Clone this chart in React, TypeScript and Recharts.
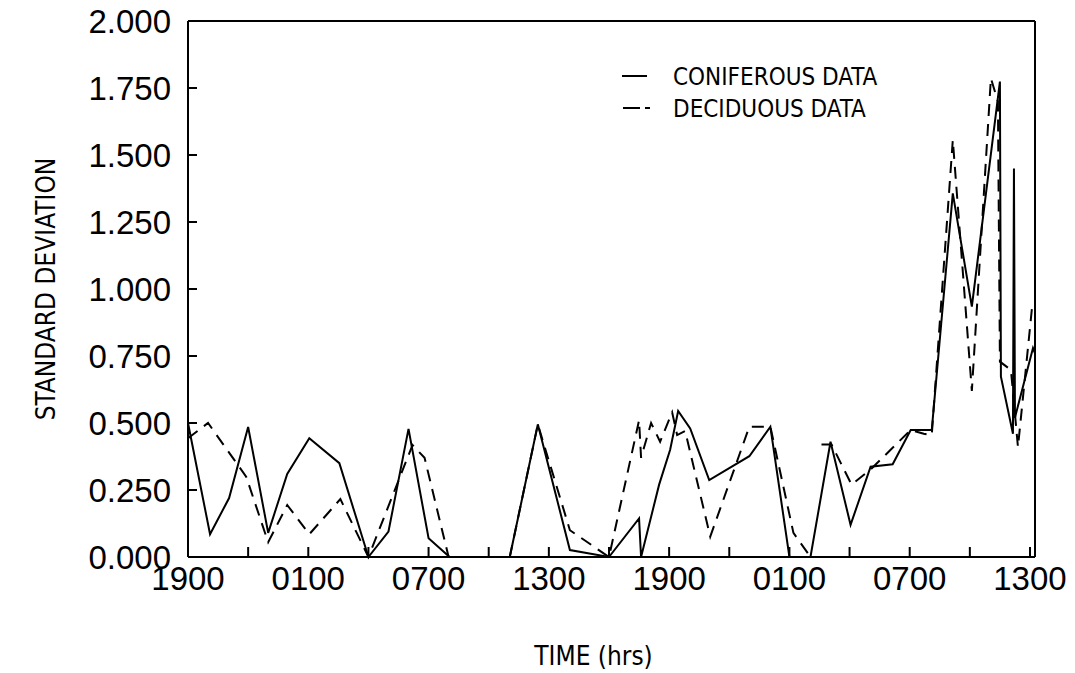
import { LineChart, Line, XAxis, YAxis, ReferenceLine, Legend } from 'recharts'

// hours since 1900 on day 1
const coniferousTime = [0, 1.1, 2.05, 3, 4, 4.95, 6.05, 7.55, 9, 10, 11, 12, 13.05, 14.5, 16.05, 17.45, 19.05, 21, 22.5, 22.6, 23.5, 24.05, 24.45, 25.05, 26, 28, 29.05, 30, 31.05, 32.05, 33.05, 34.05, 35.15, 36.05, 37.1, 38.15, 39.1, 40.5, 40.55, 41.15, 41.2, 41.25, 42.15, 42.25]
const coniferousSD = [0.5, 0.085, 0.22, 0.485, 0.09, 0.31, 0.443, 0.35, 0, 0.095, 0.478, 0.07, 0, null, 0, 0.495, 0.026, 0, 0.144, 0, 0.27, 0.4, 0.545, 0.48, 0.287, 0.376, 0.486, 0, 0, 0.43, 0.12, 0.337, 0.346, 0.474, 0.474, 1.357, 0.934, 1.774, 0.673, 0.46, 1.45, 0.52, 0.78, 0.76]

const deciduousTime = [0, 1, 2.9, 4, 4.95, 6.05, 7.6, 9, 11.2, 11.8, 13, 14.5, 16.05, 17.45, 19.05, 21, 22.5, 22.6, 23.1, 23.55, 24.15, 24.4, 24.8, 26.05, 28, 28.6, 29.05, 30.2, 31.05, 31.3, 31.6, 32.1, 33.1, 34.1, 36.05, 36.7, 37.1, 38.15, 39.1, 40.05, 40.4, 40.5, 41.05, 41.4, 42.1]
const deciduousSD = [0.443, 0.5, 0.3, 0.055, 0.194, 0.085, 0.216, 0, 0.418, 0.37, 0, null, 0, 0.495, 0.1, 0, 0.51, 0.37, 0.5, 0.43, 0.54, 0.455, 0.47, 0.076, 0.486, 0.486, 0.486, 0.09, 0, null, 0.42, 0.42, 0.27, 0.33, 0.474, 0.46, 0.455, 1.556, 0.62, 1.786, 1.7, 0.729, 0.698, 0.41, 0.93]

const timeLabels = ['1900', '0100', '0700', '1300', '1900', '0100', '0700', '1300']
const xTicks = [0, 3, 6, 9, 12, 15, 18, 21, 24, 27, 30, 33, 36, 39, 42]
const yTicks = [0, 0.25, 0.5, 0.75, 1, 1.25, 1.5, 1.75, 2]
const XMAX = 42.25

const coniferous = coniferousTime.map((t, i) => ({ t, v: coniferousSD[i] }))
const deciduous = deciduousTime.map((t, i) => ({ t, v: deciduousSD[i] }))

const narrow = '"Liberation Sans Narrow", "DejaVu Sans Condensed", sans-serif'
const tickFont = { fontSize: 33, fill: '#000', fontFamily: '"Liberation Sans", Arial, sans-serif' }

const LegendBox = () => (
  <svg width={290} height={70}>
    <line x1={22} x2={47} y1={21} y2={21} stroke="#000" strokeWidth={2} />
    <text x={73} y={30} fontFamily={narrow} fontSize={24} fill="#000">CONIFEROUS DATA</text>
    <line x1={23} x2={40} y1={53} y2={53} stroke="#000" strokeWidth={2} />
    <line x1={45} x2={50} y1={53} y2={53} stroke="#000" strokeWidth={2} />
    <text x={73} y={62} fontFamily={narrow} fontSize={24} fill="#000">DECIDUOUS DATA</text>
  </svg>
)

export default function App() {
  return (
    <div style={{ position: 'absolute', left: 0, top: 0, background: '#fff' }}>
      <LineChart width={1075} height={673} margin={{ top: 21, right: 40, bottom: 0, left: 0 }}>
        <XAxis
          dataKey="t" type="number" domain={[0, XMAX]} ticks={xTicks} interval={0}
          allowDataOverflow height={116}
          tickFormatter={(v: number) => (v % 6 === 0 ? timeLabels[v / 6] : '')}
          tick={tickFont} tickSize={-10} tickMargin={20}
          axisLine={{ stroke: '#000', strokeWidth: 2 }} tickLine={{ stroke: '#000', strokeWidth: 2 }}
          label={{ value: 'TIME (hrs)', position: 'insideBottom', offset: 8, dx: -18,
            style: { fontFamily: narrow, fontSize: 26, fill: '#000' } }}
        />
        <YAxis
          type="number" domain={[0, 2]} ticks={yTicks} interval={0} width={188}
          tickFormatter={(v: number) => v.toFixed(3)}
          tick={tickFont} tickSize={-9} tickMargin={26}
          axisLine={{ stroke: '#000', strokeWidth: 2 }} tickLine={{ stroke: '#000', strokeWidth: 2 }}
          label={{ value: 'STANDARD DEVIATION', angle: -90, position: 'insideLeft', offset: 46,
            style: { textAnchor: 'middle', fontFamily: narrow, fontSize: 26, fill: '#000' } }}
        />
        <ReferenceLine y={2} stroke="#000" strokeWidth={2} />
        <ReferenceLine x={XMAX} stroke="#000" strokeWidth={2} />
        <Legend layout="vertical" align="center" verticalAlign="middle"
          wrapperStyle={{ left: 600, top: 55, width: 290 }} content={() => <LegendBox />} />
        <Line data={coniferous} dataKey="v" name="CONIFEROUS DATA" type="linear" stroke="#000"
          strokeWidth={2} dot={false} isAnimationActive={false} />
        <Line data={deciduous} dataKey="v" name="DECIDUOUS DATA" type="linear" stroke="#000"
          strokeWidth={2} strokeDasharray="12 8" dot={false} isAnimationActive={false} />
      </LineChart>
    </div>
  )
}
